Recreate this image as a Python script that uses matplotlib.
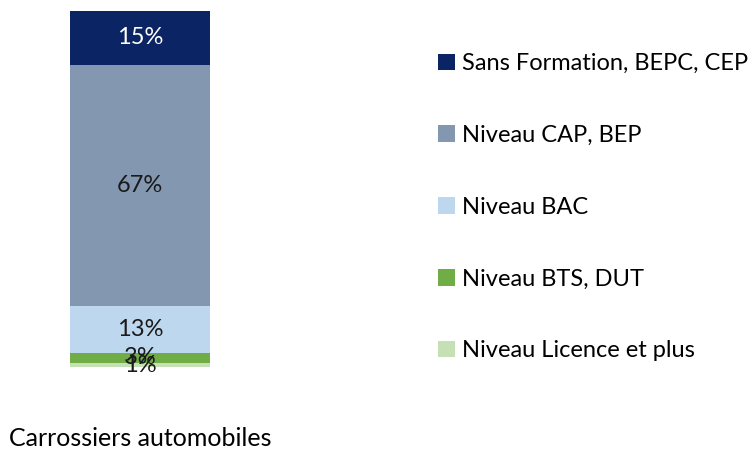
import matplotlib.pyplot as plt
from matplotlib.patches import Patch

categorie = ["Carrossiers automobiles"]
niveaux = ["Sans Formation, BEPC, CEP", "Niveau CAP, BEP", "Niveau BAC",
           "Niveau BTS, DUT", "Niveau Licence et plus"]
valeurs = [15, 67, 13, 3, 1]
couleurs = ["#0b2463", "#8497b0", "#bdd7ee", "#70ad47", "#c5e0b4"]
couleurs_texte = ["white", "#1a1a1a", "#1a1a1a", "#1a1a1a", "#1a1a1a"]

plt.rcParams['font.family'] = ['Lato', 'DejaVu Sans']

fig = plt.figure(figsize=(7.52, 4.5), dpi=100)
ax = fig.add_axes([10 / 752, 83 / 450, 260 / 752, 360 / 450])

# empilement du bas vers le haut : le premier niveau est en haut
bas = 0
piles = []
for v in reversed(valeurs):
    piles.append(bas)
    bas += v
piles = list(reversed(piles))

for v, b, c, tc in zip(valeurs, piles, couleurs, couleurs_texte):
    ax.bar(0, v, bottom=b, width=140 / 260, color=c)
    ax.text(0, b + v / 2, f"{v}%", ha='center', va='center', fontsize=17, color=tc)

ax.set_xlim(-0.5, 0.5)
ax.set_ylim(0, 100)
ax.set_xticks([0])
ax.set_xticklabels(categorie, fontsize=18)
ax.tick_params(axis='x', length=0, pad=43)
ax.set_yticks([])
for s in ax.spines.values():
    s.set_visible(False)

poignees = [Patch(facecolor=c, label=n) for c, n in zip(couleurs, niveaux)]
fig.legend(handles=poignees, loc='upper left', bbox_to_anchor=(417 / 752, 1 - 32 / 450),
           frameon=False, fontsize=17, handlelength=0.7, handleheight=0.7,
           handletextpad=0.3, labelspacing=2.15)

fig.savefig("out.png")
